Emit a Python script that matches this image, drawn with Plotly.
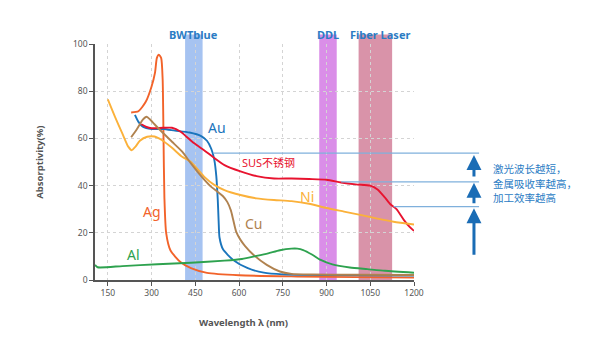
import plotly.graph_objects as go

# ---- absorptivity curves (wavelength nm, absorptivity %) ----
ag_nm = [230, 255, 280, 300, 312, 318, 325, 333, 338, 341, 344, 350, 365, 400, 435, 490, 600, 800, 1000, 1200]
ag_val = [71, 71.5, 75.5, 82, 88, 94, 95.5, 94, 85, 60, 35, 20, 12.5, 7.5, 5, 3, 2, 1.5, 1.2, 1.0]

au_nm = [243, 255, 270, 300, 340, 380, 430, 470, 490, 505, 515, 522, 527, 530, 533, 545, 580, 630, 685, 750, 900, 1200]
au_val = [70, 67, 65, 64, 64, 63.3, 62.5, 61, 59, 55.5, 51, 44, 34, 25, 18, 13, 8.5, 5, 3.1, 2.4, 2.1, 1.9]

sus_nm = [265, 280, 300, 340, 370, 400, 420, 445, 480, 510, 550, 605, 660, 720, 780, 840, 900, 950, 1000,
          1050, 1075, 1100, 1120, 1140, 1165, 1185, 1200]
sus_val = [66, 65, 64.3, 64.5, 64.5, 62.8, 60.7, 58, 55, 52.2, 48.7, 46, 44, 43, 43, 42.8, 42.5, 41.3, 40.5,
           40, 38.4, 35, 32, 30, 25.5, 22.5, 20.8]

ni_nm = [150, 175, 200, 220, 232, 245, 260, 285, 310, 335, 370, 405, 435, 480, 515, 550, 605, 660, 720, 780,
         840, 900, 960, 1020, 1075, 1130, 1200]
ni_val = [76.5, 69, 62, 56.5, 55, 56.5, 59, 60.7, 60.8, 59.3, 56, 52.2, 50, 43.8, 40.3, 38.1, 36, 34.6, 33.9,
          33.4, 32.3, 30.5, 29, 27.5, 26, 24.7, 23.5]

cu_nm = [230, 250, 270, 283, 295, 310, 335, 370, 405, 435, 470, 500, 525, 545, 560, 572, 580, 590, 605, 620,
         650, 695, 740, 780, 850, 1000, 1200]
cu_val = [60.5, 64, 68, 69.2, 68, 66, 62.8, 58.6, 54.4, 49.4, 44, 40, 37.5, 35.5, 33, 29.5, 25.5, 20.5, 17,
          14.5, 10.6, 6.4, 3.6, 2.6, 2.3, 2.2, 2.1]

al_nm = [106, 115, 200, 320, 435, 550, 610, 660, 700, 740, 780, 800, 820, 850, 880, 920, 980, 1040, 1100, 1200]
al_val = [6.4, 5.4, 5.9, 6.7, 7.3, 8.2, 8.9, 10.2, 11.3, 12.6, 13.3, 13.3, 12.7, 10.8, 8.5, 6.6, 5.3, 4.6,
          3.9, 3.1]

# ---- laser bands (nm) ----
band_names = ["BWTblue", "DDL", "Fiber Laser"]
band_lo = [415, 875, 1010]
band_hi = [475, 935, 1125]
band_colors = ["#a6c3f1", "#da8ee8", "#d993a9"]

# ---- axes ----
x_ticks = [150, 300, 450, 600, 750, 900, 1050, 1200]
y_ticks = [0, 20, 40, 60, 80, 100]
X_MIN, X_MAX = 106, 1200

# ---- absorptivity levels marked on the right ----
level_vals = [53.8, 41.6, 31.1]
level_start_nm = [512, 950, 1130]
note_lines = ["激光波长越短，", "金属吸收率越高，", "加工效率越高"]

series = [
    ("Ag", ag_nm, ag_val, "#f2632a", 300, 29),
    ("Au", au_nm, au_val, "#1b75bc", 525, 64.5),
    ("SUS不锈钢", sus_nm, sus_val, "#e8132f", 700, 50),
    ("Ni", ni_nm, ni_val, "#fbb13a", 834, 35.5),
    ("Cu", cu_nm, cu_val, "#b0824f", 652, 24),
    ("Al", al_nm, al_val, "#2ea24f", 238, 11),
]

FONT = "Noto Sans, Noto Sans CJK SC, sans-serif"
AXIS_GREY = "#555555"
NOTE_BLUE = "#2b7cc4"


def paper_x(nm):
    return (nm - X_MIN) / (X_MAX - X_MIN)


fig = go.Figure()

for name, xs, ys, color, lx, ly in series:
    fig.add_trace(go.Scatter(x=xs, y=ys, mode="lines", name=name,
                             line=dict(color=color, width=1.9, shape="spline", smoothing=0.6),
                             hoverinfo="skip"))

shapes = []
annotations = []

# laser bands, drawn beneath the grid
for name, lo, hi, col in zip(band_names, band_lo, band_hi, band_colors):
    shapes.append(dict(type="rect", xref="x", yref="paper", x0=lo, x1=hi, y0=0, y1=1.04,
                       fillcolor=col, line=dict(width=0), layer="below"))
    shift = 5 if name == "Fiber Laser" else 0
    annotations.append(dict(text="<b>%s</b>" % name, xref="x", yref="paper", x=(lo + hi) / 2, y=1.08,
                            xshift=shift, showarrow=False, font=dict(size=11, color=NOTE_BLUE, family=FONT)))

# curve name labels
for name, xs, ys, color, lx, ly in series:
    size = 11 if name.startswith("SUS") else 14
    annotations.append(dict(text=name, x=lx, y=ly, xref="x", yref="y", showarrow=False,
                            font=dict(size=size, color=color, family=FONT)))

# level lines and arrows
line_end = 1.204
arrow_x = 1.188
for v, s in zip(level_vals, level_start_nm):
    shapes.append(dict(type="line", xref="paper", yref="y", x0=paper_x(s), x1=line_end, y0=v, y1=v,
                       line=dict(color="#7fb0dc", width=1.2), layer="above"))

arrow_tips = [53, 41.2, 30.4]
arrow_len = [23, 22, 48]
for tip, ln in zip(arrow_tips, arrow_len):
    annotations.append(dict(text="", xref="paper", yref="y", x=arrow_x, y=tip, ax=0, ay=ln,
                            axref="pixel", ayref="pixel", showarrow=True, arrowhead=2, arrowsize=1.0,
                            arrowwidth=3, arrowcolor="#1a6cb5", standoff=0, startstandoff=0))

for i, t in enumerate(note_lines):
    annotations.append(dict(text=t, xref="paper", yref="paper", x=1.24, y=(280 - (169 + 14.7 * i)) / 236,
                            xanchor="left", yanchor="middle", showarrow=False,
                            font=dict(size=10.5, color=NOTE_BLUE, family=FONT)))

# axis titles
annotations.append(dict(text="<b>Wavelength λ (nm)</b>", xref="paper", yref="paper", x=0.465, y=-0.18,
                        yanchor="middle", showarrow=False, font=dict(size=9.5, color=AXIS_GREY, family=FONT)))
annotations.append(dict(text="<b>Absorptivity(%)</b>", xref="paper", yref="paper", x=-0.17, y=0.5,
                        xanchor="center", xshift=-2, textangle=-90, showarrow=False,
                        font=dict(size=9.5, color=AXIS_GREY, family=FONT)))

fig.update_layout(
    width=600, height=342,
    margin=dict(l=95, r=186, t=44, b=62),
    paper_bgcolor="white", plot_bgcolor="white",
    showlegend=False,
    font=dict(family=FONT, color=AXIS_GREY),
    shapes=shapes, annotations=annotations,
    xaxis=dict(range=[X_MIN, X_MAX], tickvals=x_ticks, ticks="outside", ticklen=4, tickcolor=AXIS_GREY,
               showline=True, linecolor=AXIS_GREY, linewidth=1.5, showgrid=True, gridcolor="#d4d4d4",
               griddash="dot", gridwidth=1, zeroline=False, tickfont=dict(size=8.5, color=AXIS_GREY)),
    yaxis=dict(range=[0, 100], tickvals=y_ticks, ticks="outside", ticklen=4, tickcolor=AXIS_GREY,
               showline=True, linecolor=AXIS_GREY, linewidth=1.5, showgrid=True, gridcolor="#d4d4d4",
               griddash="dot", gridwidth=1, zeroline=False, tickfont=dict(size=8.5, color=AXIS_GREY)),
)

fig.write_html("out.html")
